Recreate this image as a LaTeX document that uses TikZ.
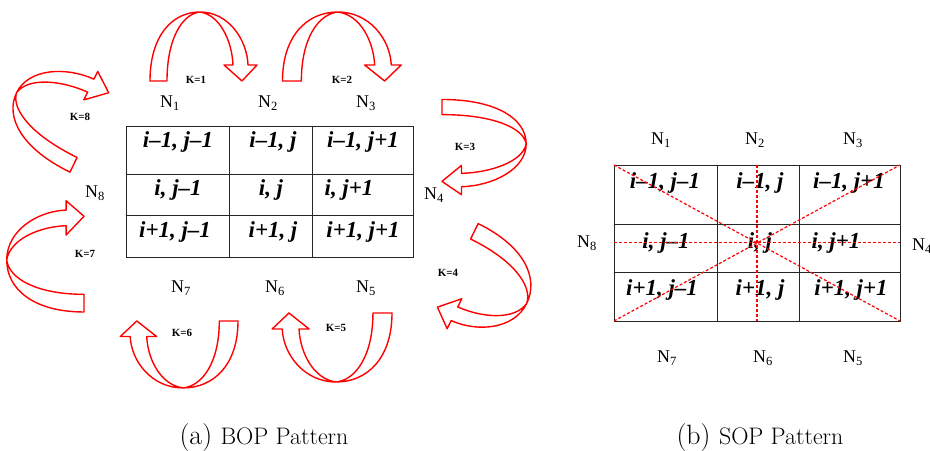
\documentclass[tikz,border=0pt]{standalone}
\usepackage{fontspec}
\newfontfamily\cellfont{Liberation Serif}

\tikzset{
  gridline/.style={draw=black!85, line width=0.9pt},
  scanline/.style={draw=red, densely dashed, line width=1.2bp},
  arrowline/.style={draw=red, fill=white, line width=1.4pt, line join=round},
  cell/.style={font=\cellfont\bfseries\itshape\fontsize{23}{23}\selectfont, inner sep=0},
  nlabel/.style={font=\cellfont\fontsize{18}{18}\selectfont, inner sep=0},
  klabel/.style={font=\cellfont\bfseries\fontsize{11}{11}\selectfont, inner sep=0},
  caption/.style={anchor=base, inner sep=0},
  % curved block arrow: foot on the left, arch up, head on the right pointing down
  bendarrow/.pic={
    \draw[arrowline] (-50,0) .. controls (-50,45) and (-28,69) .. (0,69)
      .. controls (28,69) and (47,42) .. (48,16) -- (57,16) -- (42,0) -- (24,16) -- (33,16)
      .. controls (32,40) and (20,66) .. (0,69)
      .. controls (-18,67) and (-33,42) .. (-33,0) -- cycle;
  }
}

\begin{document}
\begin{tikzpicture}[x=1bp, y=1bp]
  \useasboundingbox (0,0) rectangle (930,451);

  % (a) BOP pattern
  \draw[gridline] (126,194) rectangle (413,325);
  \draw[gridline] (126,277) -- (413,277) (126,236) -- (413,236);
  \draw[gridline] (229,194) -- (229,325) (312,194) -- (312,325);

  \node[cell] (a11) at (178,309) {i–1, j–1};
  \node[cell] (a12) at (273,309) {i–1, j};
  \node[cell] (a13) at (363,309) {i–1, j+1};
  \node[cell] (a21) at (178,261) {i, j–1};
  \node[cell] (a22) at (271,261) {i, j};
  \node[cell] (a23) at (349,261) {i, j+1};
  \node[cell] (a31) at (175,219) {i+1, j–1};
  \node[cell] (a32) at (273,219) {i+1, j};
  \node[cell] (a33) at (363,219) {i+1, j+1};

  \node[nlabel] (aN1) at (170,348) {N\textsubscript{1}};
  \node[nlabel] (aN2) at (268,348) {N\textsubscript{2}};
  \node[nlabel] (aN3) at (366,348) {N\textsubscript{3}};
  \node[nlabel] (aN4) at (434,256) {N\textsubscript{4}};
  \node[nlabel] (aN5) at (366,163) {N\textsubscript{5}};
  \node[nlabel] (aN6) at (275,163) {N\textsubscript{6}};
  \node[nlabel] (aN7) at (181,163) {N\textsubscript{7}};
  \node[nlabel] (aN8) at (95,258) {N\textsubscript{8}};

  \pic[shift={(200,370)}] {bendarrow};
  \pic[shift={(338,370)}, xscale=1.11] {bendarrow};
  \pic[shift={(442,307)}, rotate=-90, xscale=0.89, yscale=1.22] {bendarrow};
  \pic[shift={(456,182)}, rotate=-116, xscale=1.01, yscale=1.14] {bendarrow};
  \pic[shift={(336,138)}, rotate=180, xscale=1.12] {bendarrow};
  \pic[shift={(183,130)}, rotate=180, xscale=1.1, yscale=0.97] {bendarrow};
  \pic[shift={(84,191)}, rotate=90, xscale=1.04, yscale=1.12] {bendarrow};
  \pic[shift={(91,322)}, rotate=64, xscale=0.96, yscale=1.2] {bendarrow};

  \node[klabel] (k1) at (196,371) {K=1};
  \node[klabel] (k2) at (342,371) {K=2};
  \node[klabel] (k3) at (465,304) {K=3};
  \node[klabel] (k4) at (448,178) {K=4};
  \node[klabel] (k5) at (336,123) {K=5};
  \node[klabel] (k6) at (182,118) {K=6};
  \node[klabel] (k7) at (85,197) {K=7};
  \node[klabel] (k8) at (80,334) {K=8};

  \node[caption] (capa) at (264,6) {\fontsize{28}{28}\selectfont (a) \fontsize{24}{24}\selectfont BOP Pattern};

  % (b) SOP pattern
  \coordinate (bNW) at (614,286);
  \coordinate (bNE) at (900,286);
  \coordinate (bSW) at (614,130);
  \coordinate (bSE) at (900,130);
  \coordinate (bW) at (614,208.5);
  \coordinate (bE) at (900,208.5);
  \coordinate (bN) at (757,286);
  \coordinate (bS) at (757,130);

  \draw[gridline] (bSW) rectangle (bNE);
  \draw[gridline] (614,227) -- (900,227) (614,179) -- (900,179);
  \draw[gridline] (717,130) -- (717,286) (799,130) -- (799,286);

  \node[cell] (b11) at (665,268) {i–1, j–1};
  \node[cell] (b12) at (760,268) {i–1, j};
  \node[cell] (b13) at (849,268) {i–1, j+1};
  \node[cell] (b21) at (666,208) {i, j–1};
  \node[cell] (b22) at (760,208) {i, j};
  \node[cell] (b23) at (836,208) {i, j+1};
  \node[cell] (b31) at (662,161) {i+1, j–1};
  \node[cell] (b32) at (760,161) {i+1, j};
  \node[cell] (b33) at (851,161) {i+1, j+1};

  \draw[scanline] (bNW) -- (bSE);
  \draw[scanline] (bSW) -- (bNE);
  \draw[scanline] (bW) -- (bE);
  \draw[scanline] (bN) -- (bS);

  \node[nlabel] (bN1) at (661,311) {N\textsubscript{1}};
  \node[nlabel] (bN2) at (755,311) {N\textsubscript{2}};
  \node[nlabel] (bN3) at (853,311) {N\textsubscript{3}};
  \node[nlabel] (bN4) at (922,205) {N\textsubscript{4}};
  \node[nlabel] (bN5) at (853,93) {N\textsubscript{5}};
  \node[nlabel] (bN6) at (763,93) {N\textsubscript{6}};
  \node[nlabel] (bN7) at (667,93) {N\textsubscript{7}};
  \node[nlabel] (bN8) at (587,208) {N\textsubscript{8}};

  \node[caption] (capb) at (760,6) {\fontsize{28}{28}\selectfont (b) \fontsize{24}{24}\selectfont SOP Pattern};
\end{tikzpicture}
\end{document}
